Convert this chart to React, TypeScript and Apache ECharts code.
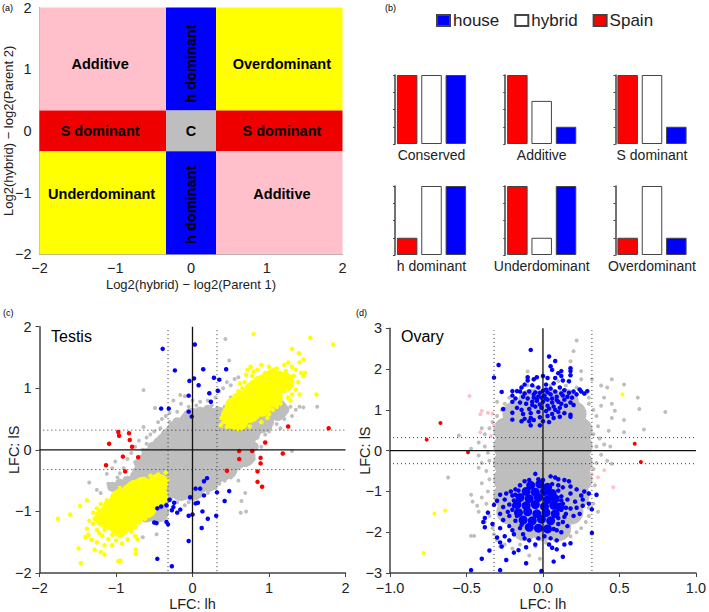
import React, { useEffect, useRef } from "react";
import * as echarts from "echarts";

const FONT = "'Liberation Sans', Arial, sans-serif";
const INK = "#222";

// Panel (a): class regions
const regionBoxes = [
  [-2, -0.33, 0.33, 2], [-0.33, 0.33, 0.33, 2], [0.33, 2, 0.33, 2],
  [-2, -0.33, -0.33, 0.33], [-0.33, 0.33, -0.33, 0.33], [0.33, 2, -0.33, 0.33],
  [-2, -0.33, -2, -0.33], [-0.33, 0.33, -2, -0.33], [0.33, 2, -2, -0.33],
];
const regionLabels = ["Additive", "h dominant", "Overdominant", "S dominant", "C", "S dominant", "Underdominant", "h dominant", "Additive"];
const regionLabelX = [-1.2, 0, 1.2, -1.2, 0, 1.2, -1.18, 0, 1.2];
const regionLabelY = [1.08, 1.09, 1.08, -0.01, -0.01, -0.01, -1.02, -1.2, -1.02];
const regionClass = ["add", "h", "over", "s", "c", "s", "over", "h", "add"];

// Panel (b): bar heights
const barCategories = ["Spain", "hybrid", "house"];
const barPanels = ["Conserved", "Additive", "S dominant", "h dominant", "Underdominant", "Overdominant"];
const spainValues = [4, 4, 4, 1, 4, 1];
const hybridValues = [4, 2.5, 4, 4, 1, 4];
const houseValues = [4, 1, 1, 4, 4, 1];

// Panel (c): Testis
const testisGreyDense = [
  [0, 0.5], [0.15, 0.5], [0.3, 0.5],
  [-0.2, 0.3], [-0.05, 0.3], [0.1, 0.3], [0.25, 0.3], [0.4, 0.3], [0.55, 0.3],
  [-0.35, 0.1], [-0.2, 0.1], [-0.05, 0.1], [0.1, 0.1], [0.25, 0.1], [0.4, 0.1], [0.55, 0.1], [0.68, 0.1],
  [-0.5, -0.1], [-0.35, -0.1], [-0.2, -0.1], [-0.05, -0.1], [0.1, -0.1], [0.25, -0.1], [0.4, -0.1], [0.55, -0.1], [0.68, -0.1],
  [-0.55, -0.3], [-0.4, -0.3], [-0.25, -0.3], [-0.1, -0.3], [0.05, -0.3], [0.2, -0.3], [0.35, -0.3], [0.45, -0.3],
  [-0.25, -0.5], [-0.1, -0.5], [0.05, -0.5], [0.2, -0.5], [-0.15, -0.65], [0, -0.65],
  [0.55, 0.45], [0.7, 0.5], [0.85, 0.55], [1, 0.7], [0.75, 0.3], [0.9, 0.45], [1.1, 0.65],
  [-0.5, -0.5], [-0.65, -0.55], [-0.8, -0.6], [-0.9, -0.7], [-0.7, -0.8], [-0.5, -0.8], [-0.4, -0.65], [-0.6, -1.0], [-0.45, -1.0],
];
const testisGreyMid = [
  [-0.45, 0.12], [-0.52, 0.05], [-0.6, -0.05], [-0.65, -0.15], [-0.7, -0.22], [-0.72, -0.35], [-0.3, 0.3], [-0.35, 0.25], [-0.2, 0.45], [-0.1, 0.5], [-0.12, 0.42],
  [0.1, 0.62], [0.2, 0.65], [0.35, 0.62], [0.42, 0.5], [0.48, 0.45], [0.6, 0.18], [0.75, 0.18], [0.8, 0.05], [0.75, 0.02], [0.7, -0.15], [0.62, -0.22], [0.52, -0.28],
  [0.5, -0.38], [0.42, -0.42], [0.35, -0.45], [0.3, -0.5], [0.22, -0.6], [0.12, -0.62], [0.05, -0.7], [-0.1, -0.72], [-0.22, -0.7], [-0.32, -0.78], [-0.4, -0.9],
  [1, 0.45], [1.12, 0.55], [1.2, 0.65], [0.98, 0.38], [0.85, 0.32], [-0.95, -0.55], [-0.85, -0.5], [-0.75, -0.42], [-0.68, -0.45], [-1.05, -0.6],
];
const testisGrey = [
  [-0.64, 0.97], [0.43, 1.8], [0.48, 1.45], [0.7, -1], [0.63, -1.02], [0.69, -0.7], [0.64, -0.83], [1.63, 0.7], [1.45, 0.69],
  [-1.35, -0.53], [-1.12, -0.39], [-1.01, -0.19], [-0.64, 0.37], [-0.49, 0.68], [-0.16, 0.89], [-0.1, 0.87], [1.3, -0.02],
  [-0.65, -1.42], [-0.47, -1.37], [-1.2, -0.7], [-0.45, 0.45], [-0.4, 0.5], [-0.35, 0.55], [-0.3, 0.6], [-0.2, 0.62], [-0.15, 0.75],
  [-0.25, 0.8], [-0.5, 0.3], [-0.6, 0.2], [-0.7, 0.15], [-0.75, 0.05], [-0.65, 0], [-0.6, 0.1], [-0.8, -0.05], [-0.85, -0.15],
  [-0.75, -0.2], [-0.9, -0.3], [-0.95, -0.38], [-0.7, -0.3], [-0.05, 0.7], [0, 0.8], [0.05, 0.72], [0.1, 0.78], [0.2, 0.8], [0.25, 0.72],
  [0.3, 0.85], [0.35, 0.95], [0.4, 1], [0.45, 1.1], [0.5, 1.05], [0.5, 0.85], [0.55, 1.15], [0.6, 1.18], [0.42, 0.7],
  [0.8, 0.1], [0.85, 0.2], [0.95, 0.25], [0.7, 0.05], [0.9, 0.05], [0.75, -0.1], [0.65, -0.2], [0.7, -0.25], [0.55, -0.35], [0.6, -0.3],
  [0.8, -0.15], [0.72, -0.05], [1, 0.3], [1.1, 0.42], [1.2, 0.5], [1.3, 0.55], [1.35, 0.65], [1.28, 0.7], [1.4, 0.7], [1.15, 0.35],
  [0.5, -0.45], [0.42, -0.5], [0.35, -0.55], [0.3, -0.62], [0.4, -0.42], [0.6, -0.5], [0.2, -0.7], [0.1, -0.75], [0.05, -0.78],
  [-0.05, -0.85], [-0.1, -0.9], [-0.15, -0.8], [0.25, -0.6], [-0.2, -0.85], [-0.35, -1.05], [-0.45, -1.1], [-0.55, 0.25], [-0.42, 0.35],
  [-0.3, 0.45], [-1.05, -0.3], [-0.98, -0.45], [-1.1, -0.55], [-1.25, -0.65], [0.18, 0.66], [0.32, 0.68],
];
const testisYellowDense = [
  [0.5, 0.55], [0.6, 0.62], [0.7, 0.7], [0.8, 0.78], [0.9, 0.85], [1, 0.95], [1.1, 1.05], [1.2, 1.1], [0.65, 0.8], [0.8, 0.95], [0.9, 1.05],
  [1.05, 1.15], [0.6, 0.47], [0.75, 0.6], [0.9, 0.7], [1.05, 0.85], [0.55, 0.7],
  [-0.45, -0.55], [-0.55, -0.65], [-0.65, -0.75], [-0.75, -0.85], [-0.85, -0.95], [-0.95, -1.05], [-1.05, -1.15], [-0.55, -0.85], [-0.7, -1],
  [-0.85, -1.15], [-0.95, -1.25], [-0.65, -0.6], [-0.8, -0.7], [-0.95, -0.8], [-1.05, -0.95], [-1.15, -1.1], [-0.6, -0.95], [-0.45, -0.75], [-0.75, -0.65],
];
const testisYellow = [
  [0.8, 1.88], [1.54, 1.82], [1.84, 1.71], [1.3, 1.64], [1.39, 1.57], [-1.76, -1.12], [-1.6, -1.05], [-1.47, -0.91], [-1.38, -0.82], [-1.49, -1.6],
  [-1.46, -1.84], [1.62, 0.9], [-0.97, -1.81], [-0.94, -1.8], [-0.74, -1.69],
  [0.37, 0.4], [0.4, 0.45], [0.38, 0.52], [0.42, 0.6], [0.46, 0.7], [0.5, 0.8], [0.55, 0.88], [0.6, 0.95], [0.65, 1], [0.68, 1.1], [0.7, 1.22],
  [0.72, 1.3], [0.76, 1.35], [0.8, 1.27], [0.85, 1.3], [0.9, 1.38], [0.95, 1.25], [1, 1.35], [1.05, 1.3], [1.1, 1.32], [1.15, 1.25], [1.2, 1.38],
  [1.25, 1.42], [1.3, 1.35], [1.35, 1.3], [1.42, 1.25], [1.45, 1.2], [1.4, 1.42], [1.45, 1.47], [1.38, 1.1], [1.3, 1.05], [1.35, 0.98], [1.4, 0.9],
  [1.3, 0.9], [1.25, 0.85], [1.28, 0.8], [1.2, 0.95], [1.15, 0.75], [1.1, 0.7], [1.05, 0.65], [0.95, 0.6], [0.85, 0.55], [0.8, 0.52], [0.7, 0.45],
  [0.65, 0.4], [0.55, 0.42], [0.5, 0.38], [0.45, 0.37], [0.55, 0.36], [1, 0.58], [1.12, 0.88], [0.98, 0.52], [1.22, 1.28], [1.47, 1.25], [0.9, 0.45], [0.75, 0.38],
  [0.62, 1.08], [0.78, 1.2], [0.92, 1.2], [1.12, 1.22], [1.25, 1.15], [1.32, 1.2], [1.2, 1.0], [1.22, 1.2], [0.72, 0.98], [0.58, 0.82], [0.78, 1.1],
  [-0.35, -0.37], [-0.38, -0.45], [-0.45, -0.4], [-0.5, -0.45], [-0.55, -0.42], [-0.6, -0.5], [-0.65, -0.5], [-0.72, -0.55], [-0.8, -0.58],
  [-0.88, -0.62], [-0.95, -0.62], [-1, -0.72], [-1.05, -0.78], [-1.12, -0.82], [-1.2, -0.88], [-1.25, -0.95], [-1.3, -1.02], [-1.22, -1.05],
  [-0.35, -0.55], [-0.33, -0.48], [-0.38, -0.62], [-0.42, -0.72], [-0.38, -0.78], [-0.45, -0.88], [-0.5, -0.95], [-0.55, -1.05], [-0.62, -1.12],
  [-0.7, -1.18], [-0.75, -1.25], [-0.8, -1.32], [-0.75, -1.4], [-0.85, -1.45], [-0.95, -1.4], [-1, -1.47], [-1.05, -1.38], [-1.1, -1.45], [-1.18, -1.4],
  [-1.15, -1.3], [-1.25, -1.3], [-1.3, -1.2], [-1.35, -1.15], [-1.38, -1.28], [-1.36, -1.38], [-1.32, -1.46], [-1.25, -1.5], [-1.15, -1.55], [-1.05, -1.55],
  [-0.92, -1.52], [-0.72, -1.45], [-1.28, -1.62], [-1.2, -1.66], [-1.15, -1.7], [-1.4, -1.42], [-0.74, -1.62], [-1.1, -0.95], [-1.2, -1.2],
  [-1.08, -1.25], [-1.12, -1.22], [-1.02, -1.32], [-0.9, -1.35], [-0.82, -1.25], [-1.2, -1.02], [-1.28, -1.12], [-0.98, -1.32], [-0.65, -1.08], [-1.22, -1.35],
];
const testisBlue = [
  [-0.39, 1.64], [0.03, 1.71], [-0.23, 1.29], [0.14, 1.31], [0.44, 1.31], [-0.04, 1.12], [0.02, 1.16], [0.28, 1.17], [0.35, 1.14], [0.08, 1.05],
  [0.33, 0.96], [0.22, 0.92], [0.24, 0.78], [-0.05, 0.88], [-0.41, 0.67], [-0.31, 0.67], [-0.05, 0.62], [-0.01, 0.54], [0.19, -0.46], [0.15, -0.51],
  [0.04, -0.63], [0.1, -0.63], [0.32, -0.69], [0.48, -0.67], [0.15, -0.74], [-0.03, -0.77], [-0.3, -0.81], [-0.24, -0.86], [0.04, -0.87], [0.07, -0.86],
  [0.42, -0.83], [-0.41, -0.92], [-0.46, -0.95], [-0.34, -0.9], [-0.25, -0.93], [-0.27, -0.98], [-0.16, -0.97], [-0.2, -1.02], [0.13, -1], [0, -1.05],
  [-0.05, -1.07], [0.31, -1.07], [0.2, -1.12], [0.12, -1.27], [-0.34, -1.17], [-0.5, -1.18], [-0.47, -1.19], [-0.32, -1.21], [-0.05, -1.48], [-0.46, -1.77], [-0.27, -1.89],
];
const testisRed = [
  [-0.97, 0.29], [-0.96, 0.23], [-0.83, 0.27], [-0.82, 0.16], [-0.79, 0.05], [-1.09, 0.1], [-0.91, -0.11], [-0.71, -0.12], [-1.13, -0.25], [-0.88, -0.35],
  [1.25, 0.38], [1.78, 0.35], [0.95, 0.12], [0.61, -0.02], [0.78, -0.02], [1.18, -0.06], [0.61, -0.15], [0.89, -0.13], [0.89, -0.22], [0.45, -0.34],
  [0.85, -0.35], [0.85, -0.52], [0.91, -0.6],
];

// Panel (d): Ovary
const ovaryGreyDense = [
  [-0.08, 1.2], [0.05, 1.2], [0.15, 1.2],
  [-0.18, 0.9], [-0.08, 0.9], [0.02, 0.9], [0.12, 0.9], [0.2, 0.9],
  [-0.24, 0.5], [-0.14, 0.5], [-0.04, 0.5], [0.06, 0.5], [0.16, 0.5], [0.24, 0.5],
  [-0.24, 0.1], [-0.14, 0.1], [-0.04, 0.1], [0.06, 0.1], [0.16, 0.1], [0.24, 0.1],
  [-0.24, -0.3], [-0.14, -0.3], [-0.04, -0.3], [0.06, -0.3], [0.16, -0.3], [0.24, -0.3],
  [-0.24, -0.7], [-0.14, -0.7], [-0.04, -0.7], [0.06, -0.7], [0.16, -0.7], [0.24, -0.7],
  [-0.24, -1.1], [-0.14, -1.1], [-0.04, -1.1], [0.06, -1.1], [0.16, -1.1], [0.22, -1.1],
  [-0.22, -1.5], [-0.12, -1.5], [0, -1.5], [0.12, -1.5], [0.18, -1.5],
  [-0.12, -1.9], [0, -1.9], [0.1, -1.9],
];
const ovaryGrey = [
  [0.22, 2.7], [0.2, 2.44], [0.18, 2.19], [-0.1, 1.94], [0.53, 1.62], [0.45, 1.75], [0.62, 1.3], [0.63, 1.02], [0.8, 0.95], [0.66, 0.52], [0.53, 0.75],
  [0.43, 0.49], [0.53, 0.45], [-0.55, 0.37], [-0.62, -0.66], [-0.47, -1.08], [-0.46, -1.25], [-0.47, -2.09], [-0.45, -2.09], [-0.09, -2.57], [-0.02, -2.65],
  [-0.3, 1.2], [-0.27, 1], [-0.25, 1.15], [-0.22, 1.3], [-0.15, 1.45], [-0.1, 1.6], [-0.05, 1.55], [0.05, 1.6], [0.1, 1.7], [0.15, 1.6], [0.22, 1.55],
  [0.25, 1.75], [0.25, 1.95], [0.28, 1.4], [0.3, 1.3], [0.32, 1.75], [0.3, 1.15], [0.33, 1], [0.35, 0.85], [0.38, 1.1], [0.4, 1.3], [0.42, 1.55], [0.38, 1.6],
  [0.45, 1.15], [0.47, 0.98], [0.45, 0.8], [0.36, 0.6], [0.33, 0.4], [0.37, 0.3], [0.4, 0.15], [0.44, 0.1], [0.35, 0.1], [0.38, -0.1], [0.35, -0.3],
  [0.42, -0.25], [0.33, -0.45], [0.45, -0.32], [0.34, -0.85], [0.35, -1.1], [0.33, -1.3], [0.36, -1.5], [0.3, -1.6], [0.28, -1.75], [0.25, -1.9], [0.22, -2], [0.3, -1.4],
  [-0.33, 0.7], [-0.3, 0.85], [-0.35, 0.55], [-0.38, 0.4], [-0.4, 0.55], [-0.42, 0.2], [-0.47, 0.05], [-0.38, 0.1], [-0.36, -0.05], [-0.42, -0.12], [-0.4, -0.3],
  [-0.35, -0.25], [-0.42, -0.42], [-0.37, -0.5], [-0.35, -0.7], [-0.4, -0.8], [-0.36, -1], [-0.4, -1.15], [-0.43, -1.35], [-0.37, -1.3], [-0.42, -1.5], [-0.35, -1.6],
  [-0.38, -1.75], [-0.33, -1.9], [-0.32, -2.05], [-0.3, -2.2], [-0.28, -2.35], [-0.25, -2.3], [-0.2, -2.4], [-0.15, -2.3], [-0.05, -2.35], [0.02, -2.25], [0.08, -2.2], [0.12, -2.05], [0.18, -2.1],
];
const ovaryPink = [
  [-0.48, 1.34], [-0.4, 0.97], [-0.41, 0.89], [-0.36, 0.93], [-0.33, 0.91], [-0.32, 0.62], [-0.41, 0.45], [-0.34, 0.36], [0.4, -0.48], [0.36, -0.65], [0.46, -0.9], [0.32, -0.58],
];
const ovaryRed = [[-0.67, 0.68], [-0.76, 0.27], [-0.49, -0.04], [0.6, 0.17], [0.64, -0.28]];
const ovaryYellow = [[0.52, 1.38], [-0.71, -1.54], [-0.64, -1.47], [-0.78, -2.51]];
const ovaryBlueDense = [
  [-0.08, -0.85], [-0.02, -0.82], [0.03, -0.9], [-0.11, -1], [-0.05, -1.02], [0.01, -1], [0.06, -1.05],
  [-0.15, -1.15], [-0.09, -1.18], [-0.03, -1.15], [0.03, -1.2], [0.08, -1.18],
  [-0.17, -1.32], [-0.11, -1.35], [-0.05, -1.32], [0.01, -1.37], [0.07, -1.34], [0.11, -1.38],
  [-0.16, -1.52], [-0.1, -1.5], [-0.04, -1.55], [0.02, -1.52], [0.08, -1.55],
  [-0.13, -1.7], [-0.07, -1.72], [-0.01, -1.68], [0.05, -1.72],
  [-0.09, -1.88], [-0.03, -1.9], [0.03, -1.92],
];
const ovaryBlue = [
  [-0.08, 2.47], [0.04, 2.31], [0.08, 2.2], [0.05, 2.07], [-0.29, 2.1], [-0.32, 1.79], [0.06, 1.98], [0.1, 1.9], [0.12, 1.95], [0.12, 1.83], [0.18, 2.02], [0.18, 1.95],
  [0.18, 1.85], [-0.1, 1.8], [-0.1, 1.72], [-0.06, 1.75], [-0.04, 1.8], [0, 1.83], [0.03, 1.78], [0.08, 1.78], [0.13, 1.72], [0.17, 1.7], [0.07, 1.65], [0.02, 1.62],
  [-0.03, 1.55], [-0.07, 1.6], [-0.12, 1.62], [-0.14, 1.55], [-0.2, 1.46], [-0.17, 1.46], [-0.27, 1.44], [-0.15, 1.45], [-0.12, 1.4], [-0.09, 1.45], [-0.05, 1.43],
  [0, 1.47], [0.02, 1.5], [0.05, 1.52], [0.08, 1.45], [0.11, 1.55], [0.14, 1.48], [0.17, 1.42], [0.2, 1.45], [0.24, 1.5], [0.25, 1.45], [0.29, 1.46], [0.27, 1.4],
  [0.22, 1.38], [0.19, 1.3], [0.13, 1.35], [0.09, 1.32], [0.05, 1.38], [0.01, 1.35], [-0.03, 1.33], [-0.06, 1.3], [-0.1, 1.28], [-0.13, 1.32], [-0.18, 1.28], [-0.2, 1.35],
  [-0.2, 1.2], [-0.15, 1.18], [-0.11, 1.15], [-0.07, 1.2], [-0.04, 1.22], [0, 1.2], [0.03, 1.25], [0.06, 1.18], [0.1, 1.2], [0.14, 1.25], [0.18, 1.18], [0.2, 1.12],
  [0.15, 1.1], [0.11, 1.05], [0.07, 1.08], [0.03, 1.1], [-0.01, 1.05], [-0.05, 1.08], [-0.09, 1.02], [-0.14, 1], [-0.17, 1.05], [-0.26, 1.02], [-0.2, 0.93], [-0.13, 0.9],
  [-0.08, 0.92], [-0.03, 0.95], [0.02, 0.97], [0.06, 0.9], [0.1, 0.95], [0.14, 0.92], [0.18, 0.88], [0.18, 0.83], [0.11, 0.83], [0.07, 0.8], [0.03, 0.85], [-0.02, 0.82],
  [-0.08, 0.8], [-0.12, 0.78], [-0.2, 0.76], [-0.14, 0.72], [-0.09, 0.72], [-0.06, 0.75], [0, 0.72], [0.04, 0.7], [-0.08, 0.62], [-0.02, 0.62],
  [-0.06, 1.38], [-0.02, 1.42], [0.03, 1.43], [-0.04, 1.27], [-0.01, 1.3], [0.02, 1.27], [0.06, 1.28], [0.09, 1.24], [0.12, 1.15], [0.04, 1.03], [0.08, 1], [0.12, 1.4], [0.16, 1.32], [-0.07, 1.12], [-0.02, 1.13],
  [-0.05, -0.57], [0.05, -0.63], [0.08, -0.66], [0.1, -0.7], [0, -0.72], [-0.03, -0.7], [-0.09, -0.72], [-0.12, -0.75], [0.14, -0.72], [0.17, -0.75], [-0.15, -0.85],
  [-0.18, -0.95], [0.06, -0.82], [0.1, -0.85], [0.13, -0.9], [0.18, -0.88], [0.22, -0.95], [-0.21, -1], [-0.24, -1.05], [-0.28, -1.08], [-0.2, -1.1], [-0.25, -1.2],
  [-0.19, -1.22], [-0.3, -1.23], [-0.22, -1.32], [-0.32, -1.33], [-0.26, -1.38], [-0.36, -1.52], [-0.28, -1.55], [-0.2, -1.45], [-0.22, -1.6], [-0.18, -1.72], [-0.26, -1.7],
  [-0.38, -1.65], [-0.39, -1.75], [-0.33, -1.8], [-0.38, -1.88], [-0.28, -1.9], [-0.22, -1.85], [-0.25, -2.1], [-0.3, -2.13], [-0.28, -2.25], [-0.27, -2.35], [-0.22, -2.2],
  [-0.19, -2.05], [-0.15, -1.9], [-0.13, -2.05], [-0.12, -2.15], [-0.09, -2.2], [-0.03, -2.15], [0.01, -2.1], [0.05, -2.15], [0.09, -2.2], [0.04, -2.3], [0.06, -2.38],
  [0.09, -2.42], [0.09, -1.95], [0.12, -2], [0.14, -2.3], [0.18, -2.27], [0.16, -1.85], [0.13, -1.75], [0.1, -1.65], [0.15, -1.55], [0.2, -1.6], [0.24, -1.55], [0.12, -1.45],
  [0.18, -1.42], [0.22, -1.4], [0.26, -1.35], [0.13, -1.3], [0.16, -1.2], [0.21, -1.25], [0.26, -1.2], [0.12, -1.12], [0.18, -1.05], [0.25, -1.1], [0.3, -1.05], [0.3, -1.3],
  [0.32, -1.44], [0.32, -2.02], [0.35, -1.08], [0.27, -1], [-0.11, -2.37], [-0.16, -2.44], [-0.19, -2.5], [-0.11, -2.76], [-0.24, -2.68], [-0.28, -2.93], [-0.47, -2.93],
  [-0.4, -2.65], [-0.35, -2.45], [-0.01, -2.95], [0.07, -2.72], [0.13, -2.6], [-0.05, -2.3],
  [-0.19, -1.35], [-0.17, -1.6], [-0.23, -1.5], [-0.14, -1.82], [-0.2, -1.95], [0.1, -1.8], [0.07, -1.92], [0.14, -1.62], [0.12, -1.22], [0.1, -0.98], [0.15, -1.4], [-0.18, -1.08], [-0.16, -0.98],
];

const threshold = 0.32;

const COLORS: Record<string, string> = {
  add: "#FFC0CB", h: "#0000FF", over: "#FFFF00", s: "#EE0000", c: "#BEBEBE",
};
const GREY = "#BEBEBE";
const YELLOW = "#FFFF00";
const BLUE = "#0000FF";
const RED = "#FF0000";
const PINK = "#FFC0CB";

const tickMinus = (v: number) => String(v).replace("-", "\u2212");
const tickMinus1 = (v: number) => v.toFixed(1).replace("-", "\u2212");

function plotAxis(gridIndex: number, min: number, max: number, interval: number, name: string, fmt: any, nameGap: number, heavy: boolean, vertical: boolean) {
  return {
    type: "value", gridIndex, min, max, interval,
    name, nameLocation: "middle", nameGap, nameMoveOverlap: false,
    nameTextStyle: { fontFamily: FONT, fontSize: heavy ? 14.5 : 13, color: INK },
    splitLine: { show: false },
    axisLine: { show: true, onZero: false, lineStyle: { color: heavy ? "#444" : "#aaa", width: heavy ? 1.5 : 1 } },
    axisTick: { show: heavy, length: 4, lineStyle: { color: "#444", width: 1 } },
    axisLabel: {
      formatter: fmt, fontFamily: FONT, fontSize: 14.5, color: INK,
      margin: vertical ? 8 : heavy ? 7 : 6, showMinLabel: true, showMaxLabel: true, hideOverlap: false,
    },
  };
}

function dots(name: string, data: number[][], color: string, size: number, idx: number, z: number) {
  return { type: "scatter", name, data, xAxisIndex: idx, yAxisIndex: idx, symbolSize: size, itemStyle: { color, opacity: 1 }, z, silent: true };
}
function rule(name: string, data: number[][], idx: number, dotted: boolean) {
  return {
    type: "line", name, data, xAxisIndex: idx, yAxisIndex: idx, symbol: "none", silent: true, z: 20,
    lineStyle: dotted ? { color: "#333", width: 1, type: [1, 3] } : { color: "#111", width: 1.3 },
  };
}

function buildOption() {
  const grids: any[] = [];
  const xAxes: any[] = [];
  const yAxes: any[] = [];
  const series: any[] = [];

  // (a)
  grids.push({ left: 39.5, top: 6.7, width: 303, height: 247.5 });
  xAxes.push(plotAxis(0, -2, 2, 1, "Log2(hybrid) \u2212 log2(Parent 1)", tickMinus, 24, false, false));
  yAxes.push(plotAxis(0, -2, 2, 1, "Log2(hybrid) \u2212 log2(Parent 2)", tickMinus, 25, false, true));
  series.push({
    type: "custom", name: "regions", xAxisIndex: 0, yAxisIndex: 0, silent: true, clip: false,
    data: regionBoxes.map((b, i) => [...b, i]),
    encode: { x: [0, 1], y: [2, 3] },
    renderItem: (_: any, api: any) => {
      const i = api.value(4);
      const a = api.coord([api.value(0), api.value(3)]);
      const b = api.coord([api.value(1), api.value(2)]);
      const p = api.coord([regionLabelX[i], regionLabelY[i]]);
      const vertical = regionClass[i] === "h";
      return {
        type: "group",
        children: [
          { type: "rect", shape: { x: a[0], y: a[1], width: b[0] - a[0], height: b[1] - a[1] }, style: { fill: COLORS[regionClass[i]] } },
          {
            type: "text", x: p[0], y: p[1], rotation: vertical ? Math.PI / 2 : 0,
            style: { text: regionLabels[i], fill: "#000", font: `bold 14.5px ${FONT}`, align: "center", verticalAlign: "middle" },
          },
        ],
      };
    },
  });

  // (b)
  const barLeft = [395, 505.2, 615.5];
  const barTop = [75, 186];
  barPanels.forEach((title, i) => {
    const idx = i + 1;
    grids.push({ left: barLeft[i % 3], top: barTop[Math.floor(i / 3)], width: 73, height: 69 });
    xAxes.push({
      type: "category", gridIndex: idx, data: barCategories,
      name: title, nameLocation: "middle", nameGap: 4, nameMoveOverlap: false,
      nameTextStyle: { fontFamily: FONT, fontSize: 14, color: INK },
      axisLine: { show: false }, axisTick: { show: false }, axisLabel: { show: false },
    });
    yAxes.push({
      type: "value", gridIndex: idx, min: 0, max: 4, interval: 1,
      splitLine: { show: false },
      axisLine: { show: true, onZero: false, lineStyle: { color: "#444", width: 1.5 } },
      axisTick: { show: true, length: 2, lineStyle: { color: "#444" } },
      axisLabel: { show: false },
    });
    const bar = (name: string, vals: (number | null)[], color: string) => ({
      type: "bar", name, data: vals, xAxisIndex: idx, yAxisIndex: idx, barWidth: 20.5, barGap: "-100%", silent: true,
      itemStyle: { color, borderColor: "#444", borderWidth: 1 },
    });
    series.push(bar("Spain", [spainValues[i], null, null], RED));
    series.push(bar("hybrid", [null, hybridValues[i], null], "#FFFFFF"));
    series.push(bar("house", [null, null, houseValues[i]], BLUE));
  });

  // (c)
  const c = 7;
  grids.push({ left: 39.5, top: 326.7, width: 306, height: 247.3 });
  xAxes.push(plotAxis(c, -2, 2, 1, "LFC: lh", tickMinus, 23, true, false));
  yAxes.push(plotAxis(c, -2, 2, 1, "LFC: lS", tickMinus, 18, true, true));
  const t = threshold;
  series.push(
    dots("testis grey dense", testisGreyDense, GREY, 22, c, 3),
    dots("testis grey mid", testisGreyMid, GREY, 10, c, 3),
    dots("testis grey", testisGrey, GREY, 4, c, 3),
    dots("testis yellow dense", testisYellowDense, YELLOW, 20, c, 5),
    dots("testis yellow", testisYellow, YELLOW, 4.5, c, 5),
    dots("testis blue", testisBlue, BLUE, 4.5, c, 6),
    dots("testis red", testisRed, RED, 4.5, c, 6),
    rule("c h0", [[-2, 0], [2, 0]], c, false),
    rule("c v0", [[0, -2], [0, 2]], c, false),
    rule("c h+", [[-1.95, t], [2, t]], c, true),
    rule("c h-", [[-1.95, -t], [2, -t]], c, true),
    rule("c v-", [[-t, -1.97], [-t, 1.97]], c, true),
    rule("c v+", [[t, -1.97], [t, 1.97]], c, true),
  );

  // (d)
  const d = 8;
  grids.push({ left: 390, top: 328.3, width: 306.7, height: 246.7 });
  xAxes.push(plotAxis(d, -1, 1, 0.5, "LFC: lh", tickMinus1, 23, true, false));
  yAxes.push(plotAxis(d, -3, 3, 1, "LFC: lS", tickMinus, 18, true, true));
  series.push(
    dots("ovary grey dense", ovaryGreyDense, GREY, 26, d, 3),
    dots("ovary grey", ovaryGrey, GREY, 4, d, 3),
    dots("ovary pink", ovaryPink, PINK, 4, d, 4),
    dots("ovary blue dense", ovaryBlueDense, BLUE, 9, d, 5),
    dots("ovary blue", ovaryBlue, BLUE, 4.5, d, 5),
    dots("ovary yellow", ovaryYellow, YELLOW, 4, d, 6),
    dots("ovary red", ovaryRed, RED, 4, d, 6),
    rule("d h0", [[-1, 0], [1, 0]], d, false),
    rule("d v0", [[0, -3], [0, 3]], d, false),
    rule("d h+", [[-0.98, t], [1, t]], d, true),
    rule("d h-", [[-0.98, -t], [1, -t]], d, true),
    rule("d v-", [[-t, -2.95], [-t, 2.95]], d, true),
    rule("d v+", [[t, -2.95], [t, 2.95]], d, true),
  );

  const tag = (text: string, x: number, y: number, size = 9) => ({
    type: "text", x, y, silent: true,
    style: { text, fill: "#000", font: `${size}px ${FONT}`, textVerticalAlign: "middle" },
  });

  return {
    animation: false,
    backgroundColor: "#fff",
    grid: grids,
    xAxis: xAxes,
    yAxis: yAxes,
    series,
    legend: {
      data: ["house", "hybrid", "Spain"],
      left: 431, top: 7, orient: "horizontal", icon: "rect",
      itemWidth: 13, itemHeight: 11, itemGap: 15, selectedMode: false,
      textStyle: { fontFamily: FONT, fontSize: 17, color: INK, padding: [0, 0, 0, -2] },
    },
    graphic: [
      tag("(a)", 2, 8), tag("(b)", 385, 8), tag("(c)", 3, 313), tag("(d)", 356, 313),
      tag("Testis", 51, 336, 16), tag("Ovary", 401, 336, 16),
    ],
  };
}

export default function App() {
  const ref = useRef<HTMLDivElement>(null);
  useEffect(() => {
    const chart = echarts.init(ref.current!, undefined, { renderer: "svg" });
    chart.setOption(buildOption() as any);
    return () => chart.dispose();
  }, []);
  return <div ref={ref} style={{ position: "fixed", left: 0, top: 0, width: 709, height: 612, background: "#fff" }} />;
}
